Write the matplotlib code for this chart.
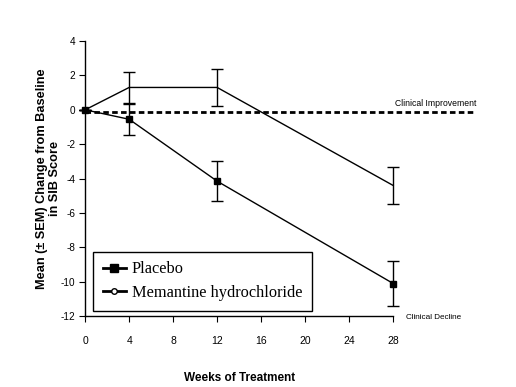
import matplotlib
matplotlib.use("Agg")
import matplotlib.pyplot as plt
from matplotlib.lines import Line2D
from matplotlib import font_manager

weeks = [0, 4, 12, 28]
placebo = [0.0, -0.55, -4.15, -10.1]
placebo_sem = [0.0, 0.9, 1.15, 1.3]
memantine = [0.0, 1.3, 1.3, -4.4]
memantine_sem = [0.0, 0.9, 1.1, 1.1]
xticks = [0, 4, 8, 12, 16, 20, 24, 28]
yticks = [4, 2, 0, -2, -4, -6, -8, -10, -12]
ref_level = -0.12

names = {f.name for f in font_manager.fontManager.ttflist}
narrow = "Liberation Sans Narrow" if "Liberation Sans Narrow" in names else "Liberation Sans"

fig = plt.figure(figsize=(5.16, 3.87), dpi=100)
ax = fig.add_axes([0.165, 0.183, 0.597, 0.711])

pl = ax.errorbar(weeks, placebo, yerr=placebo_sem, color="black", lw=1.0,
                 marker="s", ms=5, mfc="black", mec="black", capsize=4,
                 elinewidth=1.0, capthick=1.0, zorder=3)
me = ax.errorbar(weeks, memantine, yerr=memantine_sem, color="black", lw=1.0,
                 capsize=4, elinewidth=1.0, capthick=1.0, zorder=3)
for cont in (pl, me):
    for art in cont.get_children():
        art.set_clip_on(False)

ax.plot([0, 1.27], [ref_level, ref_level], transform=ax.get_yaxis_transform(),
        color="black", lw=2, ls=(0, (2, 1.2)), clip_on=False, zorder=2)

ax.text(1.005, 0.1, "Clinical Improvement", transform=ax.get_yaxis_transform(),
        fontsize=6.2, family=narrow, ha="left", va="bottom")
ax.text(1.04, -12.05, "Clinical Decline", transform=ax.get_yaxis_transform(),
        fontsize=5.9, family=narrow, ha="left", va="center")

ax.set_xlim(0, 28)
ax.set_ylim(-12, 4)
ax.set_xticks(xticks)
ax.set_yticks(yticks)
ax.set_xticklabels([str(v) for v in xticks], family=narrow, fontsize=7.5)
ax.set_yticklabels([str(v) for v in yticks], family=narrow, fontsize=7.2)
ax.tick_params(axis="x", direction="out", length=4, pad=10)
ax.tick_params(axis="y", direction="out", length=4, pad=3)
for s in ["top", "right"]:
    ax.spines[s].set_visible(False)
for s in ["left", "bottom"]:
    ax.spines[s].set_linewidth(1.0)

ax.set_xlabel("Weeks of Treatment", family=narrow, fontsize=8.5,
              fontweight="bold", labelpad=19)
ax.set_ylabel("Mean (± SEM) Change from Baseline\nin SIB Score", family="Liberation Sans",
              fontsize=9.2, fontweight="bold", linespacing=1.15)
ax.yaxis.set_label_coords(-0.078, 0.5)

handles = [
    Line2D([], [], color="black", lw=2, marker="s", ms=6, mfc="black", mec="black"),
    Line2D([], [], color="black", lw=2, marker="o", ms=4, mfc="white", mec="black"),
]
leg = ax.legend(handles, ["Placebo", "Memantine hydrochloride"],
                loc="lower left", bbox_to_anchor=(0.026, 0.02), frameon=True,
                fancybox=False, edgecolor="black", framealpha=1,
                prop={"family": "Liberation Serif", "size": 11.8},
                handlelength=1.4, handletextpad=0.35, borderpad=0.6,
                labelspacing=0.45, borderaxespad=0)
leg.get_frame().set_linewidth(1.0)

fig.savefig("out.png", dpi=100)
